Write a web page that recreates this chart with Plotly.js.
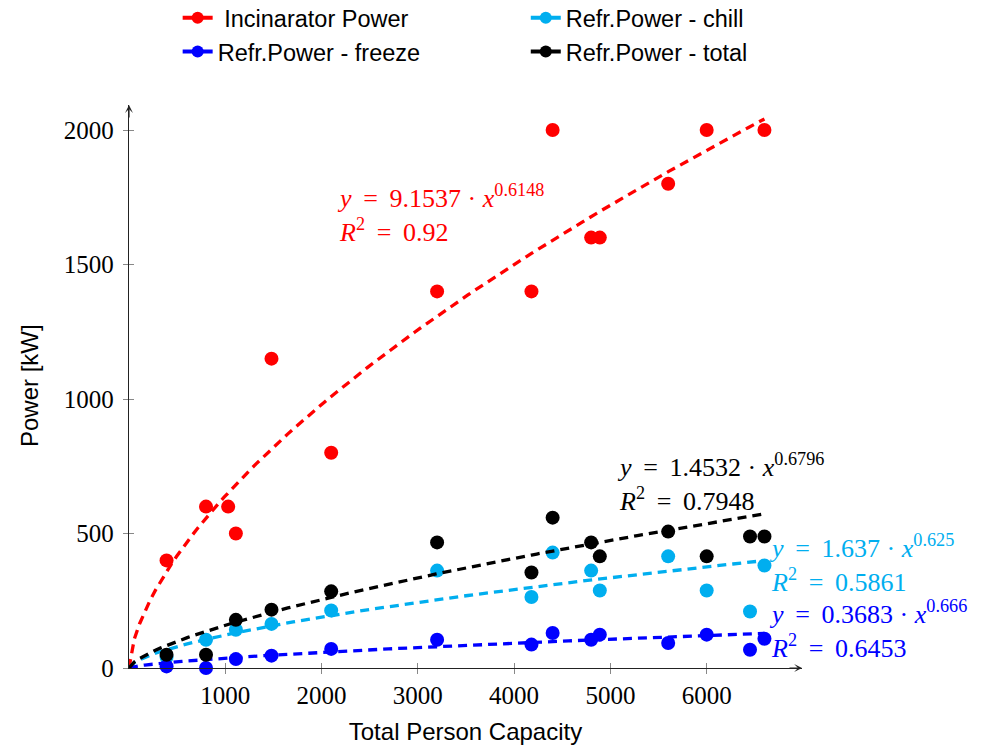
<!DOCTYPE html>
<html>
<head>
<meta charset="utf-8">
<script src="https://cdn.plot.ly/plotly-3.0.1.min.js"></script>
<style>html,body{margin:0;padding:0;background:#fff;}#chart{width:987px;height:745px;}</style>
</head>
<body>
<div id="chart"></div>
<script>
// ---- data ----
const capacityIncinerator = [390, 800, 1030, 1110, 1480, 2100, 3200, 4180, 4400, 4800, 4890, 5600, 6000, 6450, 6600];
const incineratorPower   = [400, 600, 600, 500, 1150, 800, 1400, 1400, 2000, 1600, 1600, 1800, 2000, 2100, 2000];
const capacityRefr       = [390, 800, 1110, 1480, 2100, 3200, 4180, 4400, 4800, 4890, 5600, 6000, 6450, 6600];
const refrChill          = [41, 105, 142, 164, 214, 362, 264, 429, 362, 288, 415, 288, 210, 381];
const refrFreeze         = [6, 0, 33, 46, 71, 105, 87, 130, 105, 124, 93, 124, 68, 109];
const refrTotal          = [49, 49, 179, 217, 285, 467, 355, 559, 467, 415, 507, 415, 489, 489];

// power-law fits y = a * x^b shown in the chart
const seriesNames = ['Incinarator Power', 'Refr.Power - chill', 'Refr.Power - freeze', 'Refr.Power - total'];
const fitA  = [9.1537, 1.637, 0.3683, 1.4532];
const fitB  = [0.6148, 0.625, 0.666, 0.6796];
const fitR2 = ['0.92', '0.5861', '0.6453', '0.7948'];
const fitAText = ['9.1537', '1.637', '0.3683', '1.4532'];
const fitBText = ['0.6148', '0.625', '0.666', '0.6796'];
const fitXMax = 6600;

const xTicks = [1000, 2000, 3000, 4000, 5000, 6000];
const yTicks = [0, 500, 1000, 1500, 2000];
const xTitle = 'Total Person Capacity';
const yTitle = 'Power [kW]';

const colors = ['#ff0000', '#00aeef', '#0000ff', '#000000'];
const seriesX = [capacityIncinerator, capacityRefr, capacityRefr, capacityRefr];
const seriesY = [incineratorPower, refrChill, refrFreeze, refrTotal];

const traces = [];
for (let i = 0; i < 4; i++) {
  traces.push({
    type: 'scatter', mode: 'markers', x: seriesX[i], y: seriesY[i],
    marker: {color: colors[i], size: 14, line: {width: 0}},
    showlegend: false, cliponaxis: false, hoverinfo: 'x+y'
  });
  const fx = [], fy = [];
  const n = 120;
  for (let k = 0; k <= n; k++) {
    const xv = fitXMax * k / n;
    fx.push(xv);
    fy.push(fitA[i] * Math.pow(xv, fitB[i]));
  }
  traces.push({
    type: 'scatter', mode: 'lines', x: fx, y: fy,
    line: {color: colors[i], width: 3.3, dash: '9px,6px'},
    showlegend: false, cliponaxis: false, hoverinfo: 'skip'
  });
}
// legend entries: two columns (red/freeze left, chill/total right)
const legendColumn = ['legend', 'legend2', 'legend', 'legend2'];
const legendOrder = [0, 2, 1, 3];
for (const i of legendOrder) {
  traces.push({
    type: 'scatter', mode: 'lines+markers', x: [null], y: [null],
    name: (i === 0 ? '\u00a0' : '') + seriesNames[i],
    line: {color: colors[i], width: 4},
    marker: {color: colors[i], size: 12},
    showlegend: true, legend: legendColumn[i]
  });
}
// overlay axes to get ticks crossing the axis lines
traces.push({type: 'scatter', x: [null], y: [null], xaxis: 'x2', yaxis: 'y2', showlegend: false});

const mathFont = {family: 'Liberation Serif, serif', size: 26};
const fitLabelPos = [
  {x: 2140, y: 1690},
  {x: 6630, y: 387},
  {x: 6630, y: 142},
  {x: 5050, y: 688}
];
const annotations = [];
const ts = '&#8201;';
for (let i = 0; i < 4; i++) {
  annotations.push({
    xref: 'x', yref: 'y', x: fitLabelPos[i].x, y: fitLabelPos[i].y,
    xanchor: 'left', yanchor: 'middle', align: 'left', showarrow: false,
    text: '<i>y</i>' + ts + ' = ' + ts + fitAText[i] + ' · <i>x</i><sup>' + fitBText[i] + '</sup><br><i>R</i><sup>2</sup>' + ts + ' = ' + ts + fitR2[i],
    font: Object.assign({}, mathFont, {color: colors[i]})
  });
}
const titleFont = {family: 'Liberation Sans, Arial, sans-serif', size: 24, color: '#000'};
// y axis title (as rotated text beside the axis)
annotations.push({xref: 'paper', yref: 'paper', x: -0.147, y: 0.501, xanchor: 'center', yanchor: 'middle',
  textangle: -90, showarrow: false, text: yTitle, font: titleFont});
// axis arrows
annotations.push({xref: 'paper', yref: 'paper', x: 1, y: 0, ax: -14, ay: 0, text: '', showarrow: true,
  arrowhead: 3, arrowsize: 1.1, arrowwidth: 1.2, arrowcolor: '#222'});
annotations.push({xref: 'paper', yref: 'paper', x: 0, y: 1, ax: 0, ay: 14, text: '', showarrow: true,
  arrowhead: 3, arrowsize: 1.1, arrowwidth: 1.2, arrowcolor: '#222'});

const xRange = [0, 6990], yRange = [0, 2093];
const tickFont = {family: 'Liberation Serif, serif', size: 25, color: '#000'};
const legendFont = {family: 'Liberation Sans, Arial, sans-serif', size: 23.5, color: '#000'};
const layout = {
  width: 987, height: 745,
  margin: {l: 129, r: 185, t: 105, b: 77, pad: 0, autoexpand: false},
  paper_bgcolor: '#fff', plot_bgcolor: '#fff',
  showlegend: true,
  legend: {
    orientation: 'v', xref: 'container', yref: 'paper', x: 0.180, y: 1.1935, xanchor: 'left', yanchor: 'top',
    traceorder: 'normal', font: legendFont, bgcolor: 'rgba(0,0,0,0)', borderwidth: 0
  },
  legend2: {
    orientation: 'v', xref: 'container', yref: 'paper', x: 0.5327, y: 1.1935, xanchor: 'left', yanchor: 'top',
    traceorder: 'normal', font: legendFont, bgcolor: 'rgba(0,0,0,0)', borderwidth: 0
  },
  xaxis: {
    range: xRange, tickvals: xTicks, ticktext: xTicks.map(String), ticks: 'outside', ticklen: 5, tickwidth: 1, tickcolor: '#888',
    showline: true, linecolor: '#222', linewidth: 1.2, showgrid: false, zeroline: false, tickfont: tickFont,
    title: {text: xTitle, font: titleFont, standoff: 15}
  },
  yaxis: {
    range: yRange, tickvals: yTicks, ticktext: yTicks.map(String), ticks: 'outside', ticklen: 5, tickwidth: 1, tickcolor: '#888',
    showline: true, linecolor: '#222', linewidth: 1.2, showgrid: false, zeroline: false, tickfont: tickFont,
    ticklabelstandoff: 4
  },
  xaxis2: {overlaying: 'x', anchor: 'y', side: 'bottom', range: xRange, tickvals: xTicks, ticks: 'inside', ticklen: 5, tickwidth: 1, tickcolor: '#888',
    showticklabels: false, showline: false, showgrid: false, zeroline: false},
  yaxis2: {overlaying: 'y', anchor: 'x', side: 'left', range: yRange, tickvals: yTicks, ticks: 'inside', ticklen: 5, tickwidth: 1, tickcolor: '#888',
    showticklabels: false, showline: false, showgrid: false, zeroline: false},
  annotations: annotations
};
Plotly.newPlot('chart', traces, layout, {displayModeBar: false, staticPlot: true});
</script>
</body>
</html>
